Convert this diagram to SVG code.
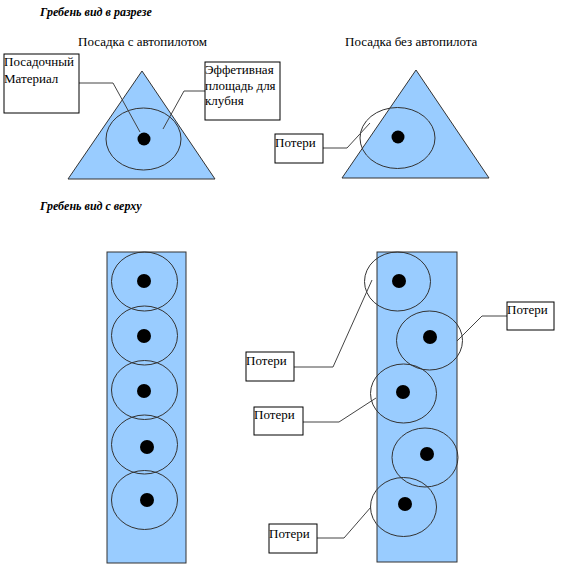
<svg xmlns="http://www.w3.org/2000/svg" width="561" height="570" viewBox="0 0 561 570">
<style>
.t{font-family:'Liberation Serif','DejaVu Serif',serif;font-size:13px;fill:#000}
.h{font-family:'Liberation Serif','DejaVu Serif',serif;font-size:12px;font-weight:bold;font-style:italic;fill:#000}
.sh{fill:#99CCFF;stroke:#333;stroke-width:1}
.el{fill:none;stroke:#333;stroke-width:1}
.dot{fill:#000}
.box{fill:#fff;stroke:#000;stroke-width:1}
.ln{fill:none;stroke:#444;stroke-width:1}
</style>
<rect width="561" height="570" fill="#fff"/>
<text class="h" x="40" y="16">Гребень вид в разрезе</text>
<text class="t" x="78" y="46">Посадка с автопилотом</text>
<text class="t" x="345" y="46">Посадка без автопилота</text>
<text class="h" x="40" y="210">Гребень вид с верху</text>

<g id="section-left">
<polygon class="sh" points="142,71 68,179 215,179"/>
<ellipse class="el" cx="143.5" cy="139" rx="37.5" ry="31"/>
<circle class="dot" cx="144" cy="139" r="6.5"/>
</g>
<g id="section-right">
<polygon class="sh" points="416,70 342,178 489,178"/>
<ellipse class="el" cx="397.5" cy="138" rx="37.5" ry="30.5"/>
<circle class="dot" cx="398" cy="137" r="6.5"/>
</g>

<g id="row-left">
<rect class="sh" x="107" y="252" width="79" height="311" stroke="#000"/>
<ellipse class="el" cx="144.5" cy="281.5" rx="33" ry="29.5"/>
<ellipse class="el" cx="144.5" cy="335.5" rx="33" ry="29.5"/>
<ellipse class="el" cx="144.5" cy="390" rx="33" ry="29.5"/>
<ellipse class="el" cx="144.5" cy="444.5" rx="33" ry="29.5"/>
<ellipse class="el" cx="144.5" cy="500" rx="33" ry="29.5"/>
<circle class="dot" cx="144" cy="281" r="7"/>
<circle class="dot" cx="144" cy="336" r="7"/>
<circle class="dot" cx="144" cy="391" r="7"/>
<circle class="dot" cx="147" cy="447" r="7"/>
<circle class="dot" cx="147" cy="500" r="7"/>
</g>

<g id="row-right">
<rect class="sh" x="377" y="252" width="80" height="310" stroke="#000"/>
<ellipse class="el" cx="397.5" cy="281.5" rx="33" ry="29.5"/>
<ellipse class="el" cx="429.5" cy="340.5" rx="33" ry="29.5"/>
<ellipse class="el" cx="403.5" cy="393.5" rx="33" ry="29.5"/>
<ellipse class="el" cx="425" cy="457.5" rx="33" ry="29.5"/>
<ellipse class="el" cx="403.5" cy="507" rx="33" ry="29.5"/>
<circle class="dot" cx="399" cy="281" r="7"/>
<circle class="dot" cx="430" cy="337" r="7"/>
<circle class="dot" cx="403" cy="392" r="7"/>
<circle class="dot" cx="427" cy="454" r="7"/>
<circle class="dot" cx="405" cy="504" r="7"/>
</g>

<g id="connectors">
<polyline class="ln" points="79,83 113,83 140,132"/>
<polyline class="ln" points="205,91 184,91 163,129"/>
<polyline class="ln" points="323,148 347,148 370,123"/>
<polyline class="ln" points="294,367 333,367 372,280"/>
<polyline class="ln" points="507,316 482,316 457,341"/>
<polyline class="ln" points="303,422 339,422 376,398"/>
<polyline class="ln" points="317,538 344,538 371,507"/>
</g>

<g id="label-material">
<rect class="box" x="4" y="54" width="75" height="59"/>
<text class="t" x="4" y="66">Посадочный</text>
<text class="t" x="4" y="83">Материал</text>
</g>
<g id="label-area">
<rect class="box" x="205" y="62" width="75" height="58"/>
<text class="t" x="205" y="74">Эффетивная</text>
<text class="t" x="205" y="90">площадь для</text>
<text class="t" x="205" y="105">клубня</text>
</g>
<g id="label-loss-1">
<rect class="box" x="275" y="134" width="48" height="29"/>
<text class="t" x="275" y="147">Потери</text>
</g>
<g id="label-loss-2">
<rect class="box" x="246" y="352" width="48" height="29"/>
<text class="t" x="246" y="365">Потери</text>
</g>
<g id="label-loss-3">
<rect class="box" x="507" y="302" width="47" height="28"/>
<text class="t" x="507" y="314">Потери</text>
</g>
<g id="label-loss-4">
<rect class="box" x="254" y="407" width="49" height="28"/>
<text class="t" x="254" y="419">Потери</text>
</g>
<g id="label-loss-5">
<rect class="box" x="269" y="524" width="48" height="29"/>
<text class="t" x="269" y="538">Потери</text>
</g>
</svg>
